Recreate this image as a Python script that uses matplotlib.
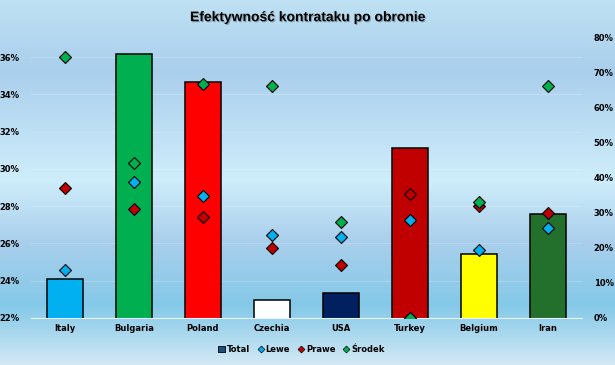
import numpy as np
import matplotlib.pyplot as plt
import matplotlib.patheffects as pe
from matplotlib.lines import Line2D
from matplotlib.patches import Patch

# dane
kraje = ['Italy', 'Bulgaria', 'Poland', 'Czechia', 'USA', 'Turkey', 'Belgium', 'Iran']
total = [24.1, 36.15, 34.65, 22.95, 23.35, 31.1, 25.45, 27.6]
lewe = [13.6, 38.9, 34.8, 23.6, 23.0, 28.1, 19.3, 25.8]
prawe = [37.0, 31.0, 28.7, 20.1, 15.0, 35.5, 32.0, 30.1]
srodek = [74.4, 44.1, 66.7, 66.1, 27.4, 0.0, 33.0, 66.1]
kolory_slupkow = ['#00B0F0', '#00B050', '#FF0000', '#FFFFFF', '#002060', '#C00000', '#FFFF00', '#23702C']

fig = plt.figure(figsize=(6.15, 3.65), dpi=100)

# tlo - pionowy gradient
bg = fig.add_axes([0, 0, 1, 1], zorder=-10)
stops_y = [0, 70, 180, 240, 305, 365]
stops_r = [190, 170, 207, 170, 132, 212]
stops_g = [225, 207, 238, 207, 201, 233]
stops_b = [243, 236, 251, 236, 232, 245]
yy = np.arange(365)
grad = np.stack([np.interp(yy, stops_y, stops_r),
                 np.interp(yy, stops_y, stops_g),
                 np.interp(yy, stops_y, stops_b)], axis=1) / 255.0
bg.imshow(grad[:, None, :], aspect='auto', extent=[0, 1, 0, 1])
bg.axis('off')

ax = fig.add_axes([0.0496, 0.1288, 0.8975, 0.768])
ax.patch.set_alpha(0)
x = np.arange(len(kraje))
ax.bar(x, total, width=0.52, bottom=0, color=kolory_slupkow, edgecolor='black', linewidth=1.1, zorder=2)
ax.set_ylim(22, 37.05)
ax.set_xlim(-0.5, len(kraje) - 0.5)
ax.set_yticks(np.arange(22, 37, 2))
ax.set_yticklabels([f'{v}%' for v in range(22, 37, 2)], fontsize=6, fontweight='bold')
ax.set_xticks(x)
ax.set_xticklabels(kraje, fontsize=6, fontweight='bold')
ax.tick_params(length=0, pad=4)
ax.tick_params(axis='y', pad=8)
ax.grid(axis='y', color='white', alpha=0.18, linewidth=0.8, zorder=0)
for s in ['top', 'right', 'left']:
    ax.spines[s].set_visible(False)
ax.spines['bottom'].set_color('white')
ax.spines['bottom'].set_alpha(0.8)

ax2 = ax.twinx()
ax2.set_ylim(0, 80)
ax2.set_yticks(np.arange(0, 81, 10))
ax2.set_yticklabels([f'{v}%' for v in range(0, 81, 10)], fontsize=6, fontweight='bold')
ax2.tick_params(length=0, pad=8)
for s in ax2.spines.values():
    s.set_visible(False)
ms = 6.5
ax2.plot(x, lewe, 'D', color='#00B0F0', mec='black', mew=0.8, ms=ms, zorder=3)
ax2.plot(x, prawe, 'D', color='#C00000', mec='black', mew=0.8, ms=ms, zorder=3)
ax2.plot(x, srodek, 'D', color='#00B050', mec='black', mew=0.8, ms=ms, zorder=3)

fig.text(0.5, 0.953, 'Efektywność kontrataku po obronie', ha='center', va='center',
         fontsize=10, fontweight='bold', family='Liberation Sans',
         path_effects=[pe.withSimplePatchShadow(offset=(0.8, -0.8), alpha=0.25)])

uchwyty = [
    Patch(facecolor='#1F4E79', edgecolor='black', linewidth=0.6, label='Total'),
    Line2D([], [], marker='D', ls='', color='#00B0F0', mec='black', mew=0.5, ms=3.5, label='Lewe'),
    Line2D([], [], marker='D', ls='', color='#C00000', mec='black', mew=0.5, ms=3.5, label='Prawe'),
    Line2D([], [], marker='D', ls='', color='#00B050', mec='black', mew=0.5, ms=3.5, label='Środek'),
]
fig.legend(handles=uchwyty, loc='center', bbox_to_anchor=(0.49, 0.043), ncol=4, frameon=False,
           prop={'size': 6, 'weight': 'bold'}, handlelength=0.8, handletextpad=0.2,
           columnspacing=0.9, handleheight=0.8)

fig.savefig('out.png', dpi=100)
